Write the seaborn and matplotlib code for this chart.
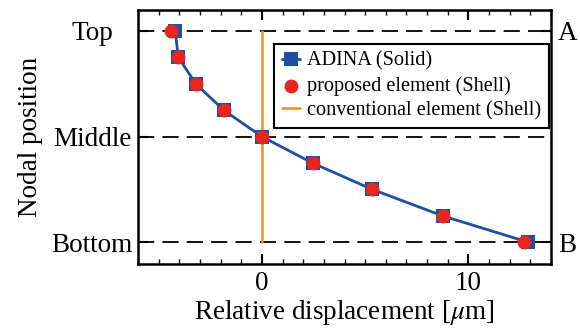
import numpy as np
import pandas as pd
import matplotlib
matplotlib.use("Agg")
import matplotlib.pyplot as plt
import seaborn as sns

# nodal positions, bottom (0) to top (8)
node = [0, 1, 2, 3, 4, 5, 6, 7, 8]
adina_x = [12.9, 8.75, 5.35, 2.45, 0.0, -1.85, -3.2, -4.05, -4.2]
proposed_x = [12.7, 8.75, 5.35, 2.45, 0.0, -1.85, -3.2, -4.05, -4.4]
conventional_x = [0, 0, 0, 0, 0, 0, 0, 0, 0]

left_ticks = [0, 4, 8]
left_labels = ["Bottom", "Middle", "Top"]
right_ticks = [0, 8]
right_labels = ["B", "A"]

blue = "#1f4fa3"
red = "#e8251f"
orange = "#f28a2e"

sns.set_theme(style="ticks")
plt.rcParams["font.family"] = ["Liberation Serif", "DejaVu Serif"]
plt.rcParams["mathtext.fontset"] = "stix"
plt.rcParams["text.color"] = "black"
plt.rcParams["axes.labelcolor"] = "black"
plt.rcParams["xtick.color"] = "black"
plt.rcParams["ytick.color"] = "black"

fig = plt.figure(figsize=(5.8, 3.29), dpi=100)
ax = fig.add_axes([0.238, 0.197, 0.712, 0.773])

df = pd.DataFrame({"node": node, "adina": adina_x, "proposed": proposed_x, "conv": conventional_x})

for yv in left_ticks:
    ax.axhline(yv, color="black", lw=1.3, dashes=(9, 4.5), zorder=1)

sns.lineplot(data=df, x="adina", y="node", sort=False, estimator=None, orient="y",
             color=blue, lw=2.0, marker="s", markersize=9.5, markeredgewidth=0,
             label="ADINA (Solid)", ax=ax, zorder=3)
sns.scatterplot(data=df, x="proposed", y="node", color=red, s=100, linewidth=0,
                label="proposed element (Shell)", ax=ax, zorder=4)
sns.lineplot(data=df, x="conv", y="node", sort=False, estimator=None, orient="y",
             color=orange, lw=1.8, label="conventional element (Shell)", ax=ax, zorder=2)

ax.set_xlim(-6, 14)
ax.set_ylim(-0.83, 8.8)
ax.xaxis.set_major_locator(plt.MultipleLocator(10))
ax.xaxis.set_minor_locator(plt.MultipleLocator(1))
ax.set_yticks(left_ticks)
ax.set_yticklabels(left_labels, ha="center")
ax.tick_params(which="both", direction="in", top=True, labelsize=19.5, width=1.5)
ax.tick_params(which="major", length=7)
ax.tick_params(which="minor", length=3.5, width=1.0)
ax.tick_params(axis="y", right=False, pad=33)
ax.tick_params(axis="x", pad=5)
for s in ax.spines.values():
    s.set_linewidth(1.8)
    s.set_color("black")

ax.set_xlabel(r"Relative displacement [$\mu$m]", fontsize=19.5, labelpad=1)
ax.set_ylabel("Nodal position", fontsize=19.5, labelpad=6)

ax2 = ax.twinx()
ax2.set_ylim(ax.get_ylim())
ax2.set_yticks(right_ticks)
ax2.set_yticklabels(right_labels)
ax2.tick_params(direction="in", length=7, width=1.5, labelsize=19.5, pad=5)
for s in ax2.spines.values():
    s.set_visible(False)

leg = ax.legend(loc="upper left", bbox_to_anchor=(0.329, 0.866), borderaxespad=0,
                fontsize=14.6, frameon=True, fancybox=False, edgecolor="black",
                handlelength=0.9, handletextpad=0.35, labelspacing=0.26,
                borderpad=0.38)
leg.get_frame().set_linewidth(1.5)
leg.get_frame().set_alpha(1)

fig.savefig("out.png", dpi=100)
